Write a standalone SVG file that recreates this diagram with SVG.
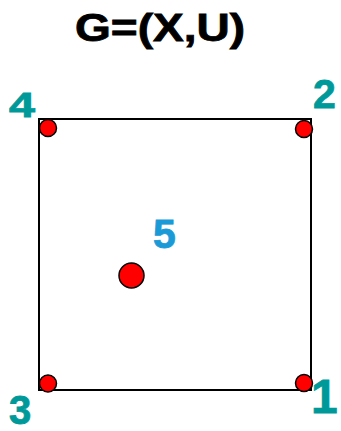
<svg xmlns="http://www.w3.org/2000/svg" width="341" height="431" viewBox="0 0 341 431">
<style>
.lbl{font-family:"Liberation Sans",Arial,sans-serif;font-weight:bold;fill:#009999;stroke:#009999;stroke-width:0.8}
.dot{fill:#ff0000;stroke:#000;stroke-width:1.5}
</style>
<rect width="341" height="431" fill="#fff"/>
<text x="75" y="41" font-family="Liberation Sans, Arial, sans-serif" font-weight="bold" font-size="38" textLength="170" lengthAdjust="spacingAndGlyphs" fill="#000" stroke="#000" stroke-width="0.8">G=(X,U)</text>
<g id="edges">
<rect x="39" y="119" width="272" height="271" fill="none" stroke="#000" stroke-width="2"/>
</g>
<g id="n4"><circle class="dot" cx="48" cy="128" r="8.5"/><text class="lbl" x="9" y="117" font-size="35" textLength="26" lengthAdjust="spacingAndGlyphs">4</text></g>
<g id="n2"><circle class="dot" cx="304" cy="129" r="8.5"/><text class="lbl" x="313" y="108" font-size="41">2</text></g>
<g id="n3"><circle class="dot" cx="48" cy="383.5" r="8.5"/><text class="lbl" x="9" y="424" font-size="40">3</text></g>
<g id="n1"><circle class="dot" cx="304" cy="383" r="8.5"/><text class="lbl" x="311" y="413" font-size="48">1</text></g>
<g id="n5"><circle class="dot" cx="131.5" cy="275.5" r="12.5"/><text class="lbl" x="153" y="248" font-size="41" style="fill:#1a9ad6;stroke:#1a9ad6">5</text></g>
</svg>
